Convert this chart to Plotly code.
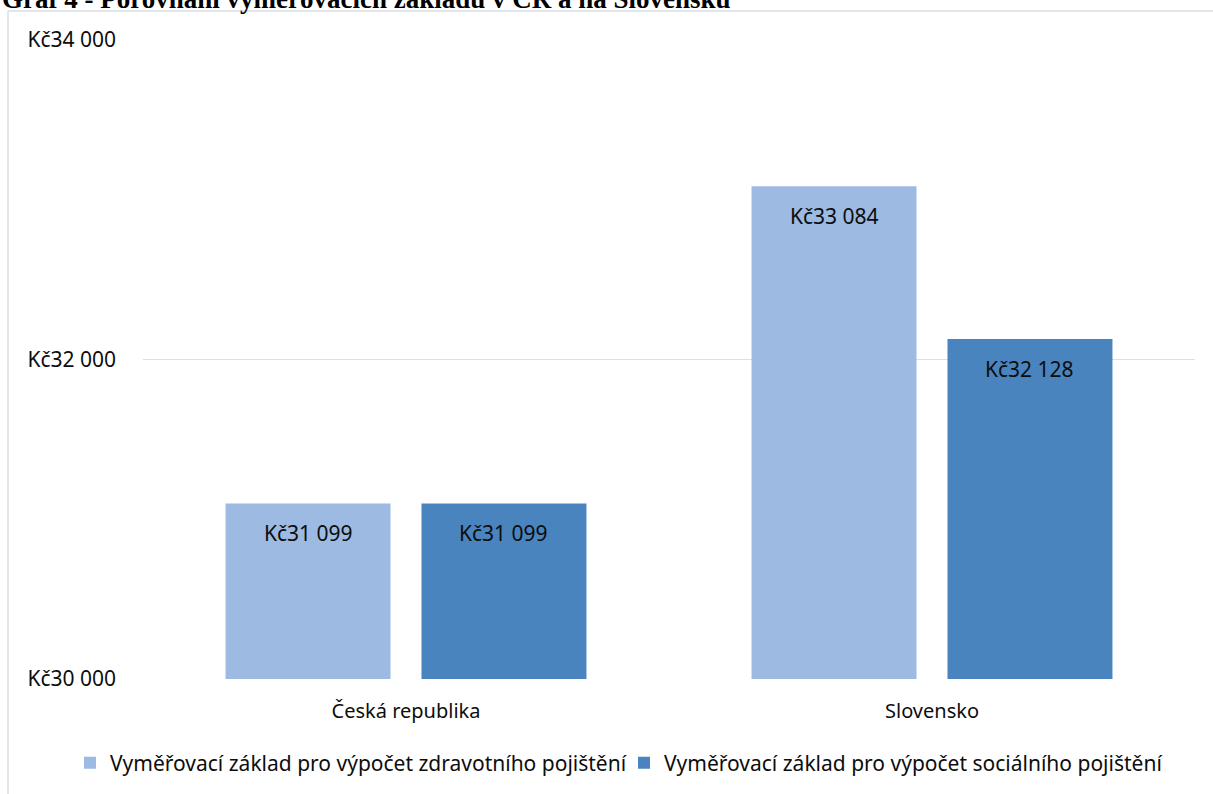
import plotly.graph_objects as go

categories = ["Česká republika", "Slovensko"]
series_names = ["Vyměřovací základ pro výpočet zdravotního pojištění",
                "Vyměřovací základ pro výpočet sociálního pojištění"]
health_values = [31099, 33084]
social_values = [31099, 32128]
y_ticks = [30000, 32000, 34000]
title_text = "Graf 4 - Porovnání vyměřovacích základů v ČR a na Slovensku"

def kc(v):
    s = f"{v:,}".replace(",", " ")
    return "Kč" + s

W, H = 1213, 794
ML, MR, MT, MB = 143, 18, 40, 115
PW, PH = W - ML - MR, H - MT - MB

FONT = "Noto Sans"
colors = ["#9CBAE2", "#4A84BF"]

bargap = 0.255
bargroupgap = 0.158

fig = go.Figure()
for name, vals, col, lg in zip(series_names, [health_values, social_values], colors,
                               ["legend", "legend2"]):
    fig.add_trace(go.Bar(
        x=categories, y=vals, name=name, legend=lg,
        marker=dict(color=col, line=dict(width=0)),
    ))

# data labels inside near bar top
slot = (1 - bargap) / 2
offsets = [-slot / 2, slot / 2]
annotations = []
for vals, off in zip([health_values, social_values], offsets):
    for i, v in enumerate(vals):
        annotations.append(dict(
            x=i + off, y=v, xref="x", yref="y", text=kc(v),
            showarrow=False, yanchor="top", yshift=-14,
            font=dict(family=FONT, size=21, color="#0d0d0d"),
        ))

annotations.append(dict(
    x=(0 - ML) / PW, y=1 + (MT + 1) / PH, xref="paper", yref="paper",
    xanchor="left", yanchor="middle", text="<b>" + title_text + "</b>",
    showarrow=False, font=dict(family="Liberation Serif", size=27, color="#000"),
))

shapes = [
    dict(type="line", xref="paper", yref="paper",
         x0=(8 - ML) / PW, x1=(W - ML) / PW, y0=1 + (MT - 11) / PH, y1=1 + (MT - 11) / PH,
         line=dict(color="#D9DEE7", width=1.5)),
    dict(type="line", xref="paper", yref="paper",
         x0=(8 - ML) / PW, x1=(8 - ML) / PW, y0=1 + (MT - 11) / PH, y1=-(MB + 5) / PH,
         line=dict(color="#D9DEE7", width=1.5)),
]

legend_common = dict(orientation="h", xref="container", yref="container",
                     xanchor="left", y=1 - 763 / H, yanchor="middle",
                     font=dict(family=FONT, size=21, color="#0d0d0d"),
                     itemwidth=30, bgcolor="rgba(0,0,0,0)")

fig.update_layout(
    width=W, height=H,
    margin=dict(l=ML, r=MR, t=MT, b=MB, autoexpand=False),
    paper_bgcolor="white", plot_bgcolor="white",
    barmode="group", bargap=bargap, bargroupgap=bargroupgap,
    font=dict(family=FONT, size=20, color="#0d0d0d"),
    showlegend=True,
    legend=dict(x=70 / W, **legend_common),
    legend2=dict(x=624 / W, **legend_common),
    annotations=annotations,
    shapes=shapes,
    xaxis=dict(type="category", showgrid=False, showline=False, ticks="",
               ticklabelstandoff=18, tickfont=dict(family=FONT, size=20)),
    yaxis=dict(range=[30000, 34000], tickvals=y_ticks,
               ticktext=[kc(v) for v in y_ticks],
               showgrid=True, gridcolor="#DCDFE4", gridwidth=1,
               zeroline=False, showline=False, ticks="",
               ticklabelstandoff=26, tickfont=dict(family=FONT, size=21)),
)

fig.write_html("out.html")
